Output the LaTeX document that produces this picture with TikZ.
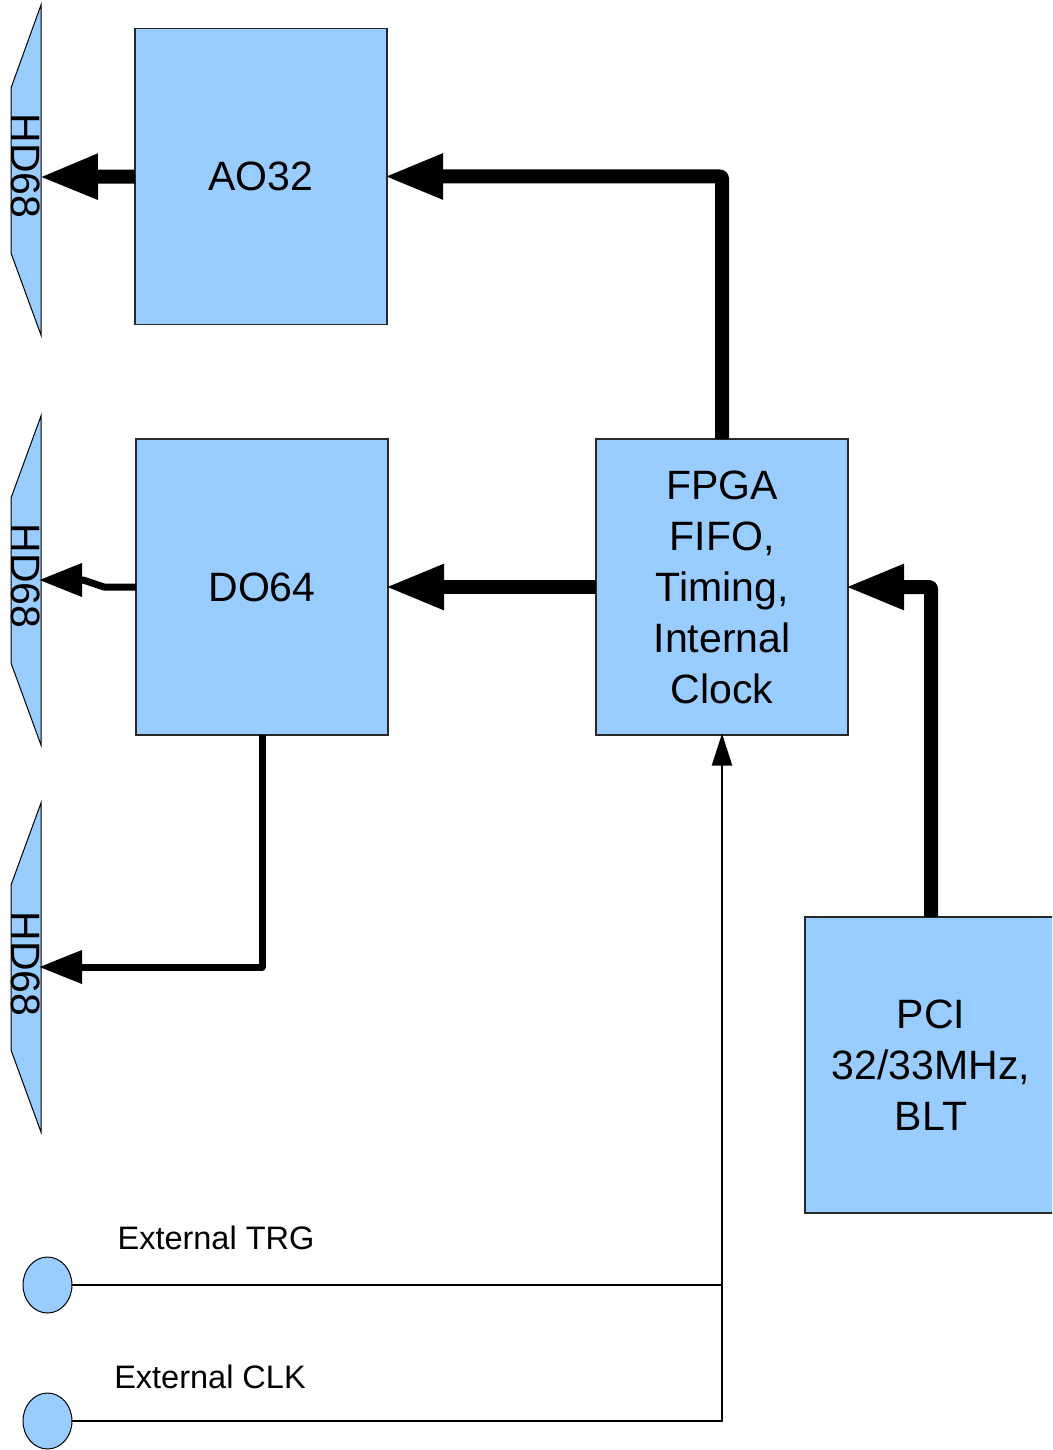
\documentclass[tikz,border=0pt]{standalone}
\usepackage{fontspec}
\setmainfont{Liberation Sans}
\usetikzlibrary{arrows.meta,shapes.geometric}
\definecolor{boxblue}{RGB}{153,204,255}
\definecolor{boxline}{RGB}{40,40,40}
\tikzset{
  block/.style={draw=boxline, line width=1.2pt, fill=boxblue, minimum width=252pt, minimum height=296pt,
    inner sep=0pt, outer sep=0pt, align=center, font=\fontsize{41}{51}\selectfont},
  conn/.style={draw=black, line width=1pt, fill=boxblue},
  conntext/.style={rotate=-90, inner sep=0pt, font=\fontsize{41}{49}\selectfont},
  extport/.style={draw=black, line width=1pt, fill=boxblue, ellipse, minimum width=49pt, minimum height=56pt, inner sep=0pt, outer sep=0pt},
  thickbus/.style={line width=14pt, line join=round, shorten >=-3pt, -{Triangle[length=59pt,width=42pt]}},
  medbus/.style={line width=7pt, line join=round, shorten >=-2pt, -{Triangle[length=43pt,width=32pt]}},
  thinsig/.style={line width=1.2pt},
  thinarrow/.style={line width=2pt, shorten >=-1.5pt, -{Triangle[length=32pt,width=20pt]}},
  lbl/.style={inner sep=0pt, font=\fontsize{32.5}{38}\selectfont}
}
\begin{document}
\begin{tikzpicture}[x=1pt,y=-1pt]
\useasboundingbox (0,0) rectangle (1052,1450);
\clip (0,0) rectangle (1052,1450);

% HD68 connectors
\path[conn] (41,5) -- (11,88) -- (11,253) -- (41,335) -- cycle;
\path[conn] (41,416) -- (11,498) -- (11,663) -- (41,745) -- cycle;
\path[conn] (41,803) -- (11,885) -- (11,1050) -- (41,1132) -- cycle;
\coordinate (hd1) at (42,177);
\coordinate (hd2) at (41,580);
\coordinate (hd3) at (41,967);

% blocks
\node[block] (ao) at (261,176.5) {AO32};
\node[block] (do) at (262,587) {DO64};
\node[block] (fpga) at (722,587) {FPGA\\FIFO,\\Timing,\\Internal\\Clock};
\node[block] (pci) at (931,1065) {PCI\\32/33MHz,\\BLT};

% external ports
\node[extport] (trg) at (47.5,1285) {};
\node[extport] (clk) at (47.5,1421) {};
\node[lbl] (trglbl) at (216,1238) {External TRG};
\node[lbl] (clklbl) at (210,1377) {External CLK};

% connectors
\draw[thickbus] (ao.west) -- (hd1);
\draw[thickbus, rounded corners=2pt] (fpga.north) |- (ao.east);
\draw[thickbus] (fpga.west) -- (do.east);
\draw[thickbus, rounded corners=2pt] (pci.north) |- (fpga.east);
\draw[medbus] (do.west) -- (104,587) -- (83,580) -- (hd2);
\draw[medbus] (do.south) |- (hd3);
\coordinate (join) at (722,1285);
\draw[thinsig] (trg.east) -- (join);
\draw[thinsig] (clk.east) -| (join);
\draw[thinarrow] (join) -- (fpga.south);

% connector labels on top
\node[conntext] (hdt1) at (26,166) {HD68};
\node[conntext] (hdt2) at (26,576) {HD68};
\node[conntext] (hdt3) at (26,964) {HD68};
\end{tikzpicture}
\end{document}
